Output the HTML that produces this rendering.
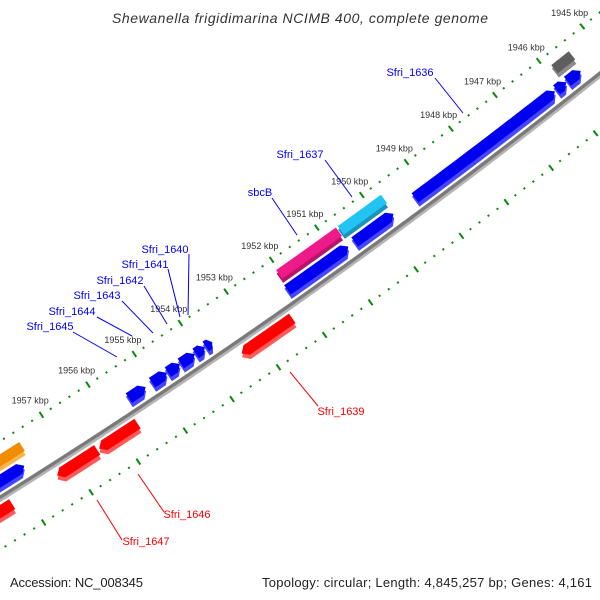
<!DOCTYPE html>
<html><head><meta charset="utf-8"><style>
html,body{margin:0;padding:0;background:#fff}
svg{display:block}
text{font-family:"Liberation Sans",sans-serif}
</style></head><body>
<svg id="map" width="600" height="600" viewBox="0 0 600 600" xmlns="http://www.w3.org/2000/svg">
<rect width="600" height="600" fill="#fff"/>
<g id="ticks"></g>
<g id="backbone"></g>
<g id="genes"></g>
<g id="labels"></g>
<text x="112" y="23" font-size="14" font-style="italic" fill="#333" textLength="376" lengthAdjust="spacing">Shewanella frigidimarina NCIMB 400, complete genome</text>
<text x="10" y="587" font-size="13" fill="#222" textLength="133" lengthAdjust="spacing">Accession: NC_008345</text>
<text x="262" y="587" font-size="13" fill="#222" textLength="330" lengthAdjust="spacing">Topology: circular; Length: 4,845,257 bp; Genes: 4,161</text>
</svg>
<script>
// data arrays (kbp positions)
const majorTicks=[1944,1945,1946,1947,1948,1949,1950,1951,1952,1953,1954,1955,1956,1957,1958,1959];
const tickLabels=["","1945 kbp","1946 kbp","1947 kbp","1948 kbp","1949 kbp","1950 kbp","1951 kbp","1952 kbp","1953 kbp","1954 kbp","1955 kbp","1956 kbp","1957 kbp","",""];
const geneNames=["Sfri_1636","g2","g3","g4","Sfri_1637","sbcB","g7","g8","Sfri_1645","Sfri_1644","Sfri_1643","Sfri_1642","Sfri_1641","Sfri_1640","g15","g16","Sfri_1639","Sfri_1647","Sfri_1646","g20"];
const geneStart=[1946.11,1945.85,1945.52,1945.47,1949.72,1950.72,1950.74,1949.74,1955.16,1954.70,1954.42,1954.10,1953.88,1953.72,1957.75,1957.60,1952.30,1956.50,1955.64,1958.30];
const geneEnd=[1949.26,1946.07,1945.82,1945.87,1950.68,1952.04,1952.08,1950.60,1955.52,1955.02,1954.68,1954.40,1954.08,1953.86,1958.60,1958.60,1953.40,1957.35,1956.46,1959.00];
const geneRow=[1,1,1,2,2,2,1,1,1,1,1,1,1,1,1,2,0,0,0,0];
const geneArrow=[-1,-1,-1,0,0,0,-1,-1,-1,-1,-1,-1,-1,-1,-1,0,1,1,1,1];
const geneColor=["blue","blue","blue","gray","cyan","pink","blue","blue","blue","blue","blue","blue","blue","blue","blue","orange","red","red","red","red"];

const palette={blue:["#0000f0","#4646ff"],gray:["#5e5e5e","#8c8c8c"],cyan:["#22c4f4","#1b93bb"],pink:["#ef1a8a","#b8146a"],orange:["#f08c00","#ffb44a"],red:["#ff0000","#ff5a5a"]};
const rowR={1:[6476,6490],2:[6459,6472],0:[6502,6516]};
const cx=-3444,cy=-5010,A0=52.84,DA=0.4933,K0=1948;
const NS="http://www.w3.org/2000/svg";
function P(k,r){const a=(A0+(k-K0)*DA)*Math.PI/180;return [cx+r*Math.cos(a),cy+r*Math.sin(a)];}
function mk(tag,attrs,parent){const e=document.createElementNS(NS,tag);for(const k in attrs)e.setAttribute(k,attrs[k]);parent.appendChild(e);return e;}
function pts(a){return a.map(p=>p[0].toFixed(2)+","+p[1].toFixed(2)).join(" ");}
function arcPts(k1,k2,r){const out=[];const n=Math.max(2,Math.ceil(Math.abs(k2-k1)/0.1));for(let i=0;i<=n;i++)out.push(P(k1+(k2-k1)*i/n,r));return out;}

// tick tracks
const tg=document.getElementById('ticks');
[6448,6540].forEach((R,ti)=>{
  for(let k=1943.8;k<=1959.6;k+=0.2){
    const kk=Math.round(k*10)/10;
    const major=Math.abs(kk-Math.round(kk))<0.01;
    const h=major?3.5:1;
    const a=P(kk,R-h),b=P(kk,R+h);
    const t=mk('line',{x1:a[0],y1:a[1],x2:b[0],y2:b[1],stroke:'#0a8a0a','stroke-width':2},tg);
    
    
  }
});
majorTicks.forEach((k,i)=>{
  if(!tickLabels[i])return;
  const p=P(k,6431);
  const t=mk('text',{x:p[0]-2,y:p[1]+3,'text-anchor':'middle','font-size':9,fill:'#333'},tg);
  t.textContent=tickLabels[i];
  
  
});

// backbone
const bb=document.getElementById('backbone');
const bl=mk('polyline',{points:pts(arcPts(1943,1960,6498.5)),fill:'none',stroke:'#b4b4b4','stroke-width':2.5},bb);


const bm=mk('polyline',{points:pts(arcPts(1943,1960,6495.5)),fill:'none',stroke:'#7a7a7a','stroke-width':3.5},bb);



// genes
function shape(k1,k2,r1,r2,arrow){
  const aw=Math.min(0.11,(k2-k1)*0.5),rm=(r1+r2)/2;
  if(arrow===-1){return [P(k1,rm)].concat(arcPts(k1+aw,k2,r1),arcPts(k2,k1+aw,r2));}
  if(arrow===1){return arcPts(k1,k2-aw,r1).concat([P(k2,rm)],arcPts(k2-aw,k1,r2));}
  return arcPts(k1,k2,r1).concat(arcPts(k2,k1,r2));
}
const gg=document.getElementById('genes');
geneStart.forEach((s,i)=>{
  const e=geneEnd[i],[r1,r2]=rowR[geneRow[i]],c=palette[geneColor[i]];
  const g=mk('g',{},gg);
  
  
  const sh=mk('polygon',{points:pts(shape(s+0.03,e+0.03,r1+3,r2+1.5,geneArrow[i])),fill:c[1]},g);
  
  
  const body=mk('polygon',{points:pts(shape(s,e,r1,r2-2.5,geneArrow[i])),fill:c[0]},g);
  
  
});

// gene labels with leaders
const labText=["Sfri_1636","Sfri_1637","sbcB","Sfri_1640","Sfri_1641","Sfri_1642","Sfri_1643","Sfri_1644","Sfri_1645","Sfri_1639","Sfri_1646","Sfri_1647"];
const labColor=["#0000ff","#0000ff","#0000ff","#0000ff","#0000ff","#0000ff","#0000ff","#0000ff","#0000ff","#ff0000","#ff0000","#ff0000"];
const labXY=[[410,76],[300,158],[260,196],[165,253],[145,268],[120,284],[97,299],[72,315],[50,330],[341,415],[187,518],[146,545]];
const labLine=[[435,78,463,113],[325,160,352,197],[272,198,297,235],[189,254,188,315],[168,269,180,317],[144,286,167,324],[122,301,153,333],[97,317,132,336],[73,332,117,357],[290,372,318,406],[138,474,164,512],[97,500,122,540]];
const lg=document.getElementById('labels');
labText.forEach((t,i)=>{
  const L=labLine[i];
  const ln=mk('line',{x1:L[0],y1:L[1],x2:L[2],y2:L[3],stroke:labColor[i],'stroke-width':1},lg);
  
  
  const tx=mk('text',{x:labXY[i][0],y:labXY[i][1],'text-anchor':'middle','font-size':11,fill:labColor[i]},lg);
  tx.textContent=t;
  
  
});
</script>
</body></html>
